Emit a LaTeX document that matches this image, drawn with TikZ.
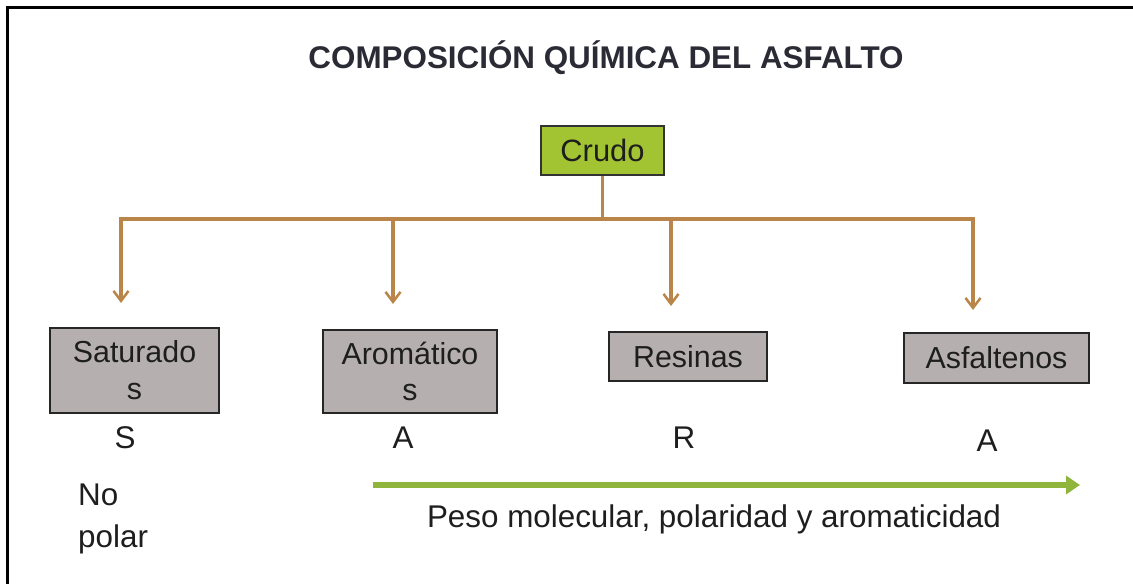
\documentclass[tikz,border=0pt]{standalone}
\usepackage{fontspec}
\setmainfont{Liberation Sans}
\usetikzlibrary{arrows.meta}
\definecolor{crudogreen}{HTML}{A2C432}
\definecolor{boxgray}{HTML}{B6AFB0}
\definecolor{brownline}{HTML}{BA8548}
\definecolor{greenarrow}{HTML}{8FB53C}
\definecolor{titlecol}{HTML}{2B2B36}
\definecolor{textcol}{HTML}{1E1E1E}
\tikzset{
  graybox/.style={draw=black!85, line width=2bp, fill=boxgray, inner sep=0pt, align=center,
     font=\fontsize{30.5}{37}\selectfont, text=textcol},
  crudobox/.style={draw=black!80, line width=2bp, fill=crudogreen, inner sep=0pt,
     font=\fontsize{31}{34}\selectfont, text=textcol},
  lbl/.style={font=\fontsize{31.5}{34}\selectfont, text=textcol, inner sep=0pt},
  branch/.style={draw=brownline, line width=3.2bp},
  brancharrow/.style={draw=brownline, line width=3.2bp, -{Straight Barb[length=10bp,width=15bp,line width=2.5bp]}},
  greenarr/.style={draw=greenarrow, line width=6bp, -{Triangle[length=14bp,width=18bp]}},
}
\begin{document}
\begin{tikzpicture}[x=1bp,y=-1bp]
\useasboundingbox (0,0) rectangle (1133,584);
\fill[white] (0,0) rectangle (1133,584);
% frame (top and left only)
\draw[black, line width=2.5bp] (1133,7.5) -- (7.5,7.5) -- (7.5,584);
% title
\node[font=\bfseries\fontsize{31.5}{34}\selectfont, text=titlecol, inner sep=0pt] (title) at (606,58) {COMPOSICIÓN QUÍMICA DEL ASFALTO};
% root
\node[crudobox, minimum width=123bp, minimum height=49bp] (crudo) at (602.5,150.5) {Crudo};
% children
\node[graybox, minimum width=169bp, minimum height=85bp] (sat) at (134.5,370.5) {Saturado\\s};
\node[graybox, minimum width=174bp, minimum height=83bp] (aro) at (410,371.5) {Aromático\\s};
\node[graybox, minimum width=158bp, minimum height=49bp] (res) at (688,356.5) {Resinas};
\node[graybox, minimum width=185bp, minimum height=50bp] (asf) at (996.5,358) {Asfaltenos};
% tree connectors
\coordinate (j) at (602.5,219);
\coordinate (hS) at (121,219);
\coordinate (hA) at (393,219);
\coordinate (hR) at (671,219);
\coordinate (hF) at (973,219);
\coordinate (tS) at (121,303);
\coordinate (tA) at (393,304);
\coordinate (tR) at (671,306);
\coordinate (tF) at (973,310);
\draw[branch] (crudo.south) -- (j);
\draw[branch, line cap=rect] (hS) -- (hF);
\draw[brancharrow] (hS) -- (tS);
\draw[brancharrow] (hA) -- (tA);
\draw[brancharrow] (hR) -- (tR);
\draw[brancharrow] (hF) -- (tF);
% letter labels
\node[lbl] (lS) at (125,438) {S};
\node[lbl] (lA) at (403,438) {A};
\node[lbl] (lR) at (684,438) {R};
\node[lbl] (lA2) at (987,441) {A};
% green arrow
\coordinate (g1) at (373,485);
\coordinate (g2) at (1080,485);
\draw[greenarr] (g1) -- (g2);
\node[lbl] (peso) at (714,519) {Peso molecular, polaridad y aromaticidad};
\node[lbl, anchor=west, align=left, font=\fontsize{31.5}{43}\selectfont] (nopolar) at (78,519) {No\\polar};
\end{tikzpicture}
\end{document}
